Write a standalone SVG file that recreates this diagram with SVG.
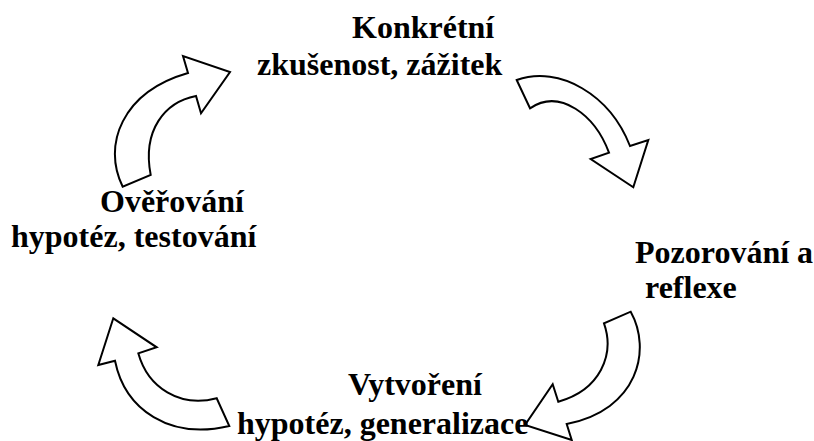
<svg xmlns="http://www.w3.org/2000/svg" width="814" height="441" viewBox="0 0 814 441">
<style>
.lbl{font-family:"Liberation Serif","Times New Roman",serif;font-weight:bold;font-size:32px;fill:#000}
.arr{fill:#fff;stroke:#000;stroke-width:2;stroke-linejoin:miter}
</style>
<rect width="814" height="441" fill="#fff"/>
<g id="connectors">
<path id="arrow-top-left" class="arr" d="M122.7,186.7 C102,145 122,92 188,73 L183,56 L230,72 L201,113.3 L196,96 C165,102 142,130 150.7,175 Z"/>
<path id="arrow-top-right" class="arr" d="M516.7,80 C560,65 610,95 630,146 L648.3,140 L633.3,187.3 L590.7,159 L609,152.7 C595,115 560,88 530,108.3 Z"/>
<path id="arrow-bottom-right" class="arr" d="M630.7,311.7 C652,350 638,410 566.7,424 L571.7,440 L525,425 L552.7,384.3 L558.3,401.7 C600,390 615,355 604,323.3 Z"/>
<path id="arrow-bottom-left" class="arr" d="M229.3,426 C170,440 125,410 115,360.7 L98.3,365 L113.3,318.3 L156.7,347.3 L138.3,353.3 C148,388 180,408 216.7,398.3 Z"/>
</g>
<g id="node-konkretni">
<text class="lbl" x="352" y="38">Konkrétní</text>
<text class="lbl" x="257" y="75">zkušenost, zážitek</text>
</g>
<g id="node-pozorovani">
<text class="lbl" x="635" y="263">Pozorování a</text>
<text class="lbl" x="645" y="298">reflexe</text>
</g>
<g id="node-vytvoreni">
<text class="lbl" x="348" y="395">Vytvoření</text>
<text class="lbl" x="237" y="434">hypotéz, generalizace</text>
</g>
<g id="node-overovani">
<text class="lbl" x="100" y="212">Ověřování</text>
<text class="lbl" x="11" y="247">hypotéz, testování</text>
</g>
</svg>
